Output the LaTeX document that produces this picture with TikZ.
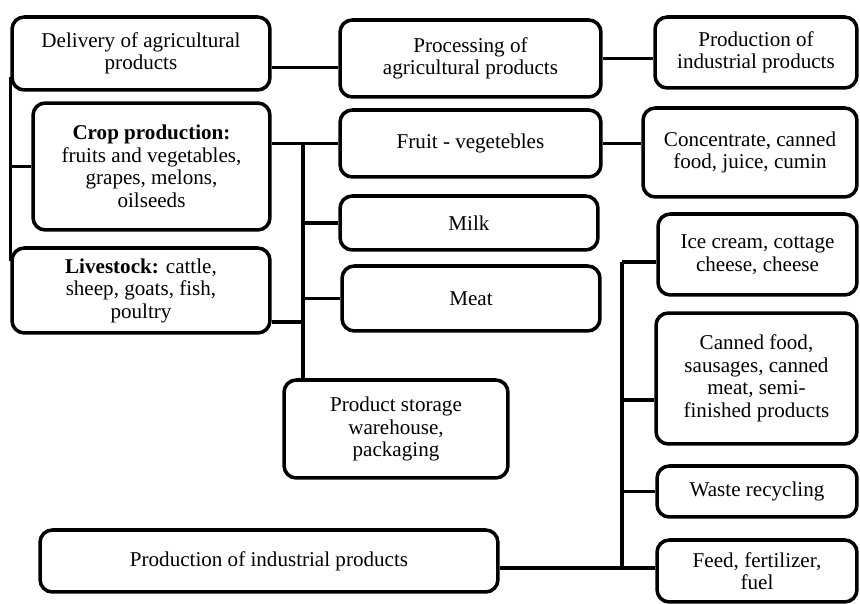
\documentclass[tikz,border=0pt]{standalone}
\usepackage{fontspec}
\setmainfont{Liberation Serif}

\begin{document}
\begin{tikzpicture}[x=0.02cm, y=-0.02cm, line width=2pt]
				\tikzstyle{box}=[draw, rounded corners=7pt, align=center, inner sep=2pt, font=\fontsize{12}{12.8}\selectfont]
				\useasboundingbox (0,0) rectangle (860,604);
				%First Row
				\node[box, minimum width=5.16cm, minimum height=1.46cm](deliv) at (141,53.5){Delivery of agricultural\\products};
				\node[box, minimum width=5.22cm, minimum height=1.54cm](proc) at (470.5,58.5){Processing of\\agricultural products};
				\node[box, minimum width=4.04cm, minimum height=1.42cm](indtop) at (756,52.5){Production of\\industrial products};
				%Raw materials
				\node[box, minimum width=4.74cm, minimum height=2.54cm](crop) at (151.5,166.5){\textbf{Crop production:}\\fruits and vegetables,\\grapes, melons,\\oilseeds};
				\node[box, minimum width=5.16cm, minimum height=1.70cm](live) at (141,290.5){\textbf{Livestock:} cattle,\\sheep, goats, fish,\\poultry};
				%Processing
				\node[box, minimum width=5.22cm, minimum height=1.34cm](fruit) at (470.5,143.5){Fruit - vegetebles};
				\node[box, minimum width=5.16cm, minimum height=1.08cm](milk) at (469,223){Milk};
				\node[box, minimum width=5.16cm, minimum height=1.30cm](meat) at (471,298.5){Meat};
				\node[box, minimum width=4.48cm, minimum height=1.96cm](store) at (396,429){Product storage\\warehouse,\\packaging};
				\node[box, minimum width=9.16cm, minimum height=1.24cm](indbot) at (269,561){Production of industrial products};
				%Products
				\node[box, minimum width=4.28cm, minimum height=1.78cm](conc) at (750,152.5){Concentrate, canned\\food, juice, cumin};
				\node[box, minimum width=3.98cm, minimum height=1.62cm](ice) at (757.5,254.5){Ice cream, cottage\\cheese, cheese};
				\node[box, minimum width=4.02cm, minimum height=2.62cm](canned) at (756.5,378.5){Canned food,\\sausages, canned\\meat, semi-\\finished products};
				\node[box, minimum width=4.00cm, minimum height=1.02cm](waste) at (757,491.5){Waste recycling};
				\node[box, minimum width=4.00cm, minimum height=1.24cm](feed) at (757,571){Feed, fertilizer,\\fuel};
				%Lines
				\coordinate (cbus) at (303,143.5);
				\coordinate (rtop) at (622,262);
				\coordinate (rbot) at (622,568);
				\draw ([yshift=0.3cm]deliv.south west) -- ([yshift=-0.3cm]live.north west);
				\draw (crop.west) -- (crop.west -| deliv.west);
				\draw ([yshift=-0.28cm]deliv.east) -- ([yshift=-0.28cm]deliv.east -| proc.west);
				\draw (proc.east) -- (proc.east -| indtop.west);
				\draw (crop.east |- fruit.west) -- (fruit.west);
				\draw (cbus) -- (cbus |- store.north);
				\draw (cbus |- milk.west) -- (milk.west);
				\draw (cbus |- meat.west) -- (meat.west);
				\draw ([yshift=0.26cm]live.south east) -- ([yshift=0.26cm]live.south east -| cbus);
				\draw (fruit.east) -- (fruit.east -| conc.west);
				\draw (rtop) -- (rtop -| ice.west);
				\draw (rtop) -- (rbot);
				\draw ([yshift=-0.43cm]canned.west) -- ([yshift=-0.43cm]canned.west -| rtop);
				\draw (waste.west) -- (waste.west -| rtop);
				\draw (rbot -| indbot.east) -- (rbot -| feed.west);
\end{tikzpicture}
\end{document}
